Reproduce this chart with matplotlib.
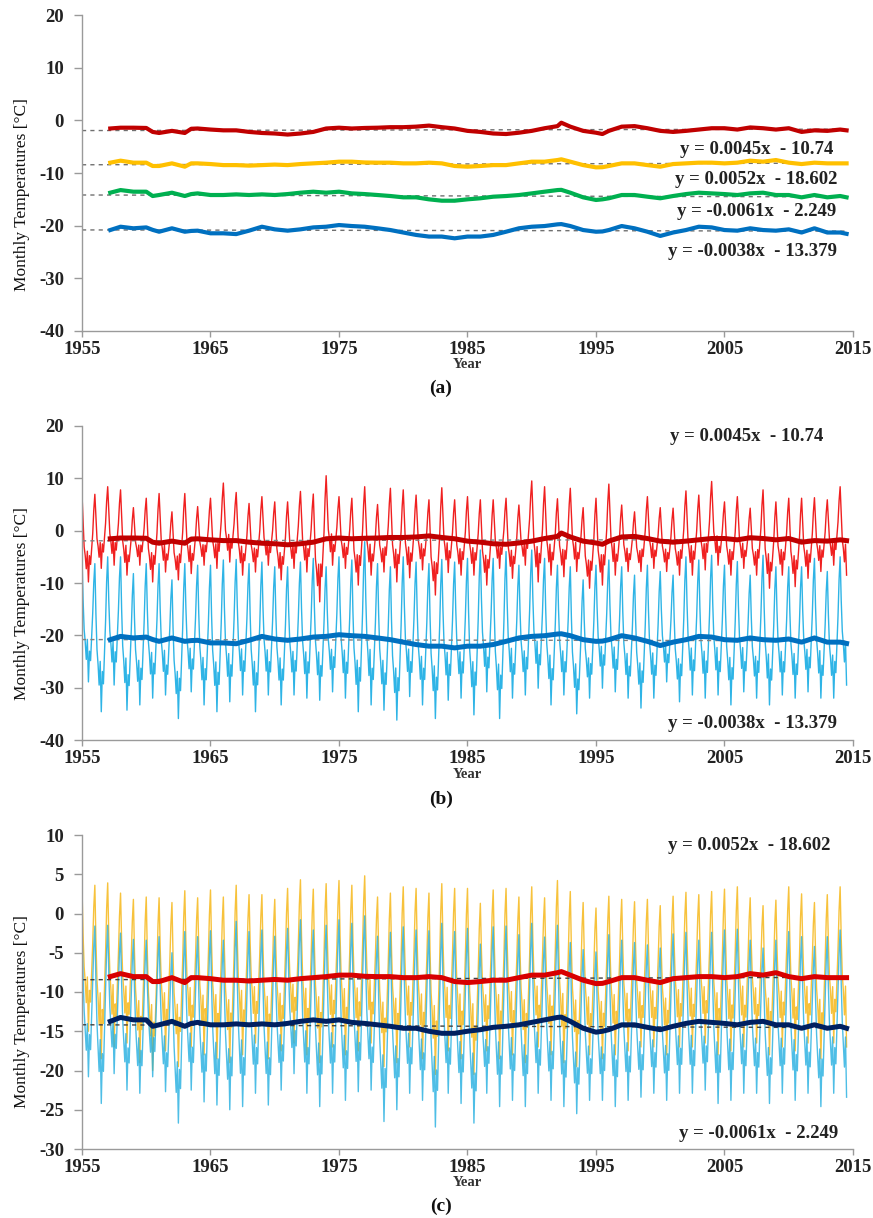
import numpy as np
import matplotlib
matplotlib.use("Agg")
import matplotlib.pyplot as plt

plt.rcParams["axes.unicode_minus"] = False

# ---------------- data ----------------
# running-mean (thick) lines
RM_YEARS = [1957.2, 1958, 1959, 1960, 1960.5, 1961, 1962, 1963, 1963.5, 1964, 1965, 1966, 1967,
            1968, 1969, 1970, 1971, 1972, 1973, 1974, 1975, 1976, 1977, 1978, 1979, 1980, 1981,
            1982, 1983, 1984, 1985, 1986, 1987, 1988, 1989, 1990, 1991, 1992, 1992.3, 1993, 1994,
            1995, 1995.5, 1996, 1997, 1998, 1999, 2000, 2001, 2002, 2003, 2004, 2005, 2006, 2007,
            2008, 2009, 2010, 2011, 2012, 2013, 2014, 2014.5]
RM_RED = [-1.55, -1.4, -1.4, -1.45, -2.2, -2.4, -2.0, -2.4, -1.6, -1.55, -1.75, -1.9, -1.9,
          -2.2, -2.4, -2.5, -2.7, -2.5, -2.2, -1.55, -1.4, -1.55, -1.45, -1.4, -1.3, -1.3, -1.2,
          -1.0, -1.3, -1.55, -2.0, -2.2, -2.5, -2.6, -2.35, -2.0, -1.5, -1.1, -0.45, -1.2, -2.0,
          -2.35, -2.6, -2.0, -1.2, -1.1, -1.5, -2.0, -2.2, -2.0, -1.75, -1.5, -1.5, -1.75, -1.35,
          -1.5, -1.75, -1.5, -2.2, -1.9, -2.0, -1.75, -1.9]
RM_YELLOW = [-8.04, -7.66, -8.04, -8.04, -8.67, -8.67, -8.17, -8.8, -8.17, -8.17, -8.3, -8.5, -8.5,
             -8.6, -8.5, -8.4, -8.5, -8.3, -8.17, -8.04, -7.85, -7.85, -8.0, -8.04, -8.04, -8.17, -8.17,
             -8.04, -8.17, -8.67, -8.8, -8.67, -8.5, -8.5, -8.17, -7.85, -7.85, -7.54, -7.4, -7.85, -8.5,
             -8.93, -8.9, -8.67, -8.17, -8.17, -8.5, -8.8, -8.3, -8.17, -8.04, -8.04, -8.17, -8.04, -7.66,
             -7.85, -7.54, -8.04, -8.3, -8.04, -8.17, -8.17, -8.17]
RM_GREEN = [-13.74, -13.24, -13.55, -13.55, -14.37, -14.18, -13.74, -14.37, -14.0, -13.87, -14.18, -14.18, -14.06,
            -14.18, -14.06, -14.18, -14.0, -13.74, -13.55, -13.74, -13.55, -13.87, -14.0, -14.18, -14.37, -14.62, -14.62,
            -15.0, -15.26, -15.26, -15.0, -14.8, -14.5, -14.37, -14.18, -13.87, -13.55, -13.24, -13.2, -13.74, -14.62,
            -15.12, -15.0, -14.8, -14.18, -14.18, -14.5, -14.8, -14.37, -14.0, -13.74, -13.87, -14.0, -14.18, -13.87,
            -13.74, -14.18, -14.18, -14.62, -14.18, -14.62, -14.37, -14.62]
RM_BLUE = [-20.83, -20.2, -20.5, -20.33, -20.8, -21.15, -20.5, -21.15, -21.0, -20.95, -21.45, -21.45, -21.6,
           -20.95, -20.2, -20.7, -20.95, -20.7, -20.33, -20.2, -19.88, -20.07, -20.2, -20.5, -20.83, -21.3, -21.76,
           -22.07, -22.07, -22.4, -22.07, -22.07, -21.76, -21.15, -20.5, -20.2, -20.07, -19.75, -19.7, -20.07, -20.83,
           -21.15, -21.1, -20.83, -20.07, -20.5, -21.15, -21.95, -21.3, -20.83, -20.2, -20.33, -20.83, -20.95, -20.5,
           -20.83, -20.95, -20.7, -21.3, -20.5, -21.3, -21.3, -21.55]

# linear trend equations (slope, intercept) printed on the chart
TREND_RED = (0.0045, -10.74)
TREND_YELLOW = (0.0052, -18.602)
TREND_GREEN = (-0.0061, -2.249)
TREND_BLUE = (-0.0038, -13.379)

# monthly series: yearly summer peaks and winter minima (b) and (c), 1955-2014
YEARS = list(range(1955, 2015))
RED_PEAK = [7.0, 6.95, 8.4, 7.8, 4.4, 6.2, 7.1, 3.6, 7.1, 4.6, 6.2, 9.1, 7.3, 5.2, 6.5, 5.5, 5.5, 7.5, 7.0, 10.5,
            6.5, 6.2, 8.4, 5.0, 8.1, 7.8, 6.8, 5.9, 8.2, 5.9,
            6.5, 5.9, 5.9, 6.2, 4.9, 9.5, 8.4, 6.1, 8.1, 4.4, 6.2, 8.9, 4.9, 3.6, 6.5, 4.4, 4.3, 7.6, 6.8, 9.4,
            5.5, 6.5, 4.3, 7.8, 5.5, 6.2, 6.2, 6.3, 5.9, 8.4]
RED_LOW = [-9.8, -7.2, -6.6, -8.5, -6.6, -9.8, -7.9, -9.4, -8.2, -6.6, -7.2, -6.0, -8.5, -7.9, -6.6, -9.4, -7.2,
           -7.9, -13.6, -6.6, -7.2, -10.4, -8.5, -7.9, -9.8, -9.0, -7.5, -12.3, -8.0, -8.5,
           -8.5, -10.4, -7.2, -9.1, -6.6, -9.8, -8.5, -8.8, -7.8, -11.0, -10.4, -8.5, -7.8, -7.8, -7.2, -7.8,
           -8.5, -8.5, -7.5, -6.6, -8.5, -7.2, -8.5, -11.0, -8.5, -10.7, -9.1, -7.8, -6.6, -8.5]
BLUE_PEAK = [-5.0, -6.3, -5.0, -5.0, -8.2, -6.3, -6.3, -9.4, -6.3, -6.6, -6.6, -5.6, -5.5, -6.3, -6.0, -6.9,
             -6.9, -6.0, -5.3, -6.9, -5.0, -5.6, -2.1, -6.3, -6.9, -5.0, -6.0, -6.3, -5.5, -6.0,
             -5.3, -3.7, -5.3, -4.0, -6.6, -3.7, -5.3, -6.6, -6.9, -9.4, -6.6, -5.6, -6.9, -8.5, -6.6, -7.8,
             -8.5, -5.0, -5.6, -4.7, -6.6, -5.9, -8.5, -4.7, -6.9, -6.9, -6.9, -5.3, -7.8, -5.0]
BLUE_LOW = [-28.9, -34.6, -29.5, -34.3, -33.3, -32.0, -31.4, -35.9, -30.8, -33.3, -34.6, -32.7, -31.4, -34.6,
            -31.4, -33.3, -31.4, -32.0, -32.4, -30.8, -32.0, -34.6, -33.3, -34.3, -36.2, -31.7, -33.3, -35.9,
            -32.4, -32.0,
            -35.2, -30.8, -35.9, -32.0, -31.4, -30.1, -33.3, -31.4, -35.0, -32.0, -30.1, -30.8, -32.0, -33.9,
            -32.0, -28.9, -32.7, -31.4, -32.0, -31.4, -33.3, -30.8, -32.0, -33.3, -31.4, -32.0, -30.8, -32.0,
            -32.0, -29.5]
YEL_PEAK = [3.2, 3.6, 3.9, 2.6, 1.8, 2.1, 2.0, 1.4, 2.9, 2.0, 3.0, 2.1, 3.6, 2.4, 2.4, 1.8, 3.2, 4.3, 3.1, 3.8,
            4.2, 3.6, 4.8, 2.1, 2.6, 3.4, 3.2, 2.6, 3.8, 3.2,
            3.2, 1.3, 3.0, 3.2, 2.1, 3.4, 2.0, 4.2, 2.8, 1.4, 0.7, 2.2, 1.8, 1.5, 1.8, 1.0, 2.2, 2.7, 2.4, 2.8,
            3.1, 3.4, 2.0, 1.0, 1.7, 3.4, 2.5, 1.4, 2.4, 3.4]
YEL_LOW = [-15.0, -18.5, -17.0, -16.5, -19.0, -20.0, -17.5, -19.5, -17.0, -18.0, -18.5, -19.0, -18.0, -16.5,
           -18.5, -17.5, -16.5, -18.0, -19.0, -17.0, -18.0, -17.5, -16.5, -19.5, -19.0, -17.0, -18.5, -20.5,
           -17.5, -18.5,
           -20.5, -17.5, -18.5, -18.0, -19.0, -17.0, -18.0, -19.0, -19.5, -18.0, -18.5, -18.0, -17.5, -17.0,
           -17.0, -18.0, -17.0, -17.0, -16.5, -18.0, -17.5, -17.0, -16.5, -18.0, -17.0, -17.5, -16.5, -18.5,
           -16.5, -17.0]
CYAN_PEAK = [-2.0, -1.6, -1.5, -2.5, -3.3, -3.4, -2.95, -5.0, -2.3, -2.95, -2.2, -3.4, -1.0, -2.3, -2.1, -2.9,
             -1.9, -0.8, -2.1, -1.5, -0.8, -1.25, -0.3, -2.9, -2.4, -1.7, -2.1, -2.2, -1.25, -2.3,
             -1.9, -3.9, -1.7, -1.6, -2.7, -1.25, -3.0, -1.5, -3.7, -4.6, -4.9, -2.7, -3.4, -3.7, -4.0, -4.4,
             -2.6, -2.4, -3.4, -2.4, -2.1, -2.0, -3.4, -4.4, -3.4, -2.3, -2.95, -4.2, -2.95, -2.1]
CYAN_LOW = [-20.8, -24.2, -20.4, -22.5, -22.9, -20.8, -22.7, -26.7, -22.5, -24.0, -24.4, -25.0, -24.6, -22.9,
            -24.4, -22.5, -20.4, -22.9, -24.6, -22.9, -23.8, -22.7, -22.5, -26.5, -25.0, -22.9, -23.8, -27.2,
            -22.9, -24.2,
            -26.7, -22.9, -24.6, -23.8, -24.6, -22.9, -23.8, -24.6, -25.5, -23.8, -23.8, -24.6, -23.8, -23.4,
            -22.9, -23.8, -22.9, -22.9, -22.5, -24.2, -23.8, -22.9, -22.9, -24.2, -22.9, -23.8, -22.9, -24.6,
            -22.9, -23.4]
# typical within-year pattern (fraction between winter minimum and summer peak), months after the peak
SHAPE_RED = [1.0, 0.7, 0.4, 0.3, 0.15, 0.35, 0.0, 0.3, 0.2, 0.38, 0.55, 0.82]
SHAPE_BLUE = [1.0, 0.66, 0.42, 0.32, 0.18, 0.34, 0.0, 0.26, 0.18, 0.38, 0.58, 0.84]
SHAPE_YEL = [1.0, 0.68, 0.45, 0.35, 0.2, 0.38, 0.0, 0.28, 0.2, 0.4, 0.6, 0.85]
SHAPE_CYAN = [1.0, 0.68, 0.45, 0.32, 0.18, 0.36, 0.0, 0.28, 0.18, 0.4, 0.6, 0.86]

EQ_A = ["y = 0.0045x  - 10.74", "y = 0.0052x  - 18.602", "y = -0.0061x  - 2.249", "y = -0.0038x  - 13.379"]

# ---------------- helpers ----------------
W, H = 873, 1218
fig = plt.figure(figsize=(W / 100, H / 100), dpi=100)
SERIF = ["Liberation Serif", "DejaVu Serif"]
EQ_SIZE = 13.5


def px_axes(left, top, right, bottom):
    return fig.add_axes([left / W, 1 - bottom / H, (right - left) / W, (bottom - top) / H])


def ftext(x, y, s, **kw):
    fig.text(x / W, 1 - y / H, s, family=SERIF, ha="center", va="center", **kw)


def monthly(peak, low, shape):
    t, v = [], []
    n = len(YEARS)
    for i in range(int((n - 0.5) * 12) + 1):
        y, k = i // 12, i % 12
        p = peak[min(y + 1, n - 1)] if k >= 7 else peak[y]
        t.append(YEARS[y] + k / 12)
        v.append(low[y] + (p - low[y]) * shape[k])
    return np.array(t), np.array(v)


def style(ax, ylim, step):
    ax.set_xlim(1955, 2015)
    ax.set_ylim(*ylim)
    ax.set_xticks(range(1955, 2016, 10))
    ax.set_yticks(np.arange(ylim[0], ylim[1] + 0.1, step))
    for s in ["top", "right"]:
        ax.spines[s].set_visible(False)
    for s in ["left", "bottom"]:
        ax.spines[s].set_color("#9a9a9a")
        ax.spines[s].set_linewidth(1.0)
    ax.tick_params(axis="x", direction="out", length=4, width=1, color="#9a9a9a", pad=3)
    ax.tick_params(axis="y", direction="out", length=6, width=1, color="#9a9a9a", pad=7)
    for lab in ax.get_xticklabels() + ax.get_yticklabels():
        lab.set_family(SERIF)
        lab.set_fontweight("bold")
        lab.set_fontsize(13.5)
        lab.set_color("#222222")


def trend(ax, coef, color, lw=1.0):
    xs = np.array([1955, 2014.5])
    ax.plot(xs, coef[0] * xs + coef[1], ls=(0, (3, 3)), color=color, lw=lw, zorder=2)


# ---------------- panel (a) ----------------
ax = px_axes(82, 15, 853, 331)
style(ax, (-40, 20), 10)
for coef in [TREND_RED, TREND_YELLOW, TREND_GREEN, TREND_BLUE]:
    trend(ax, coef, "#707070")
ax.plot(RM_YEARS, RM_RED, color="#C00000", lw=3.0, zorder=3)
ax.plot(RM_YEARS, RM_YELLOW, color="#FFC000", lw=3.0, zorder=3)
ax.plot(RM_YEARS, RM_GREEN, color="#00B050", lw=3.0, zorder=3)
ax.plot(RM_YEARS, RM_BLUE, color="#0070C0", lw=3.0, zorder=3)
for (x, y), s in zip([(757, 150), (756, 180), (757, 212), (752, 252)], EQ_A):
    ftext(x, y, s, fontsize=EQ_SIZE, fontweight="bold", color="#222222")

# ---------------- panel (b) ----------------
ax = px_axes(82, 426, 853, 740)
style(ax, (-40, 20), 10)
tr, vr = monthly(RED_PEAK, RED_LOW, SHAPE_RED)
tb, vb = monthly(BLUE_PEAK, BLUE_LOW, SHAPE_BLUE)
ax.plot(tr, vr, color="#F02020", lw=1.0, zorder=2)
ax.plot(tb, vb, color="#2EB4E6", lw=1.0, zorder=2)
trend(ax, TREND_RED, "#808080")
trend(ax, TREND_BLUE, "#808080")
ax.plot(RM_YEARS, RM_RED, color="#C00000", lw=3.6, zorder=3)
ax.plot(RM_YEARS, RM_BLUE, color="#0070C0", lw=3.6, zorder=3)
ftext(747, 437, EQ_A[0], fontsize=EQ_SIZE, fontweight="bold", color="#222222")
ftext(752, 723, EQ_A[3], fontsize=EQ_SIZE, fontweight="bold", color="#222222")

# ---------------- panel (c) ----------------
ax = px_axes(82, 835, 853, 1149)
style(ax, (-30, 10), 5)
ty, vy = monthly(YEL_PEAK, YEL_LOW, SHAPE_YEL)
tc, vc = monthly(CYAN_PEAK, CYAN_LOW, SHAPE_CYAN)
ax.plot(ty, vy, color="#F7C23C", lw=1.0, zorder=2)
ax.plot(tc, vc, color="#22AEE0", lw=1.0, alpha=0.8, zorder=2)
trend(ax, TREND_YELLOW, "#404040")
trend(ax, TREND_GREEN, "#404040")
ax.plot(RM_YEARS, RM_YELLOW, color="#D80000", lw=3.6, zorder=3)
ax.plot(RM_YEARS, RM_GREEN, color="#002060", lw=3.6, zorder=3)
ftext(749, 846, EQ_A[1], fontsize=EQ_SIZE, fontweight="bold", color="#222222")
ftext(759, 1133, EQ_A[2], fontsize=EQ_SIZE, fontweight="bold", color="#222222")

# ---------------- shared labels ----------------
for yl, yx in [(195, 365), (604, 775), (1012, 1183)]:
    ftext(22, yl, "Monthly Temperatures [°C]", fontsize=12.5, rotation=90, color="#111111")
    ftext(467, yx, "Year", fontsize=10.5, fontweight="bold", color="#333333")
ftext(441, 388, "(a)", fontsize=14, fontweight="bold", color="#111111")
ftext(441, 799, "(b)", fontsize=14, fontweight="bold", color="#111111")
ftext(441, 1206, "(c)", fontsize=14, fontweight="bold", color="#111111")

fig.savefig("out.png", dpi=100, facecolor="white")
